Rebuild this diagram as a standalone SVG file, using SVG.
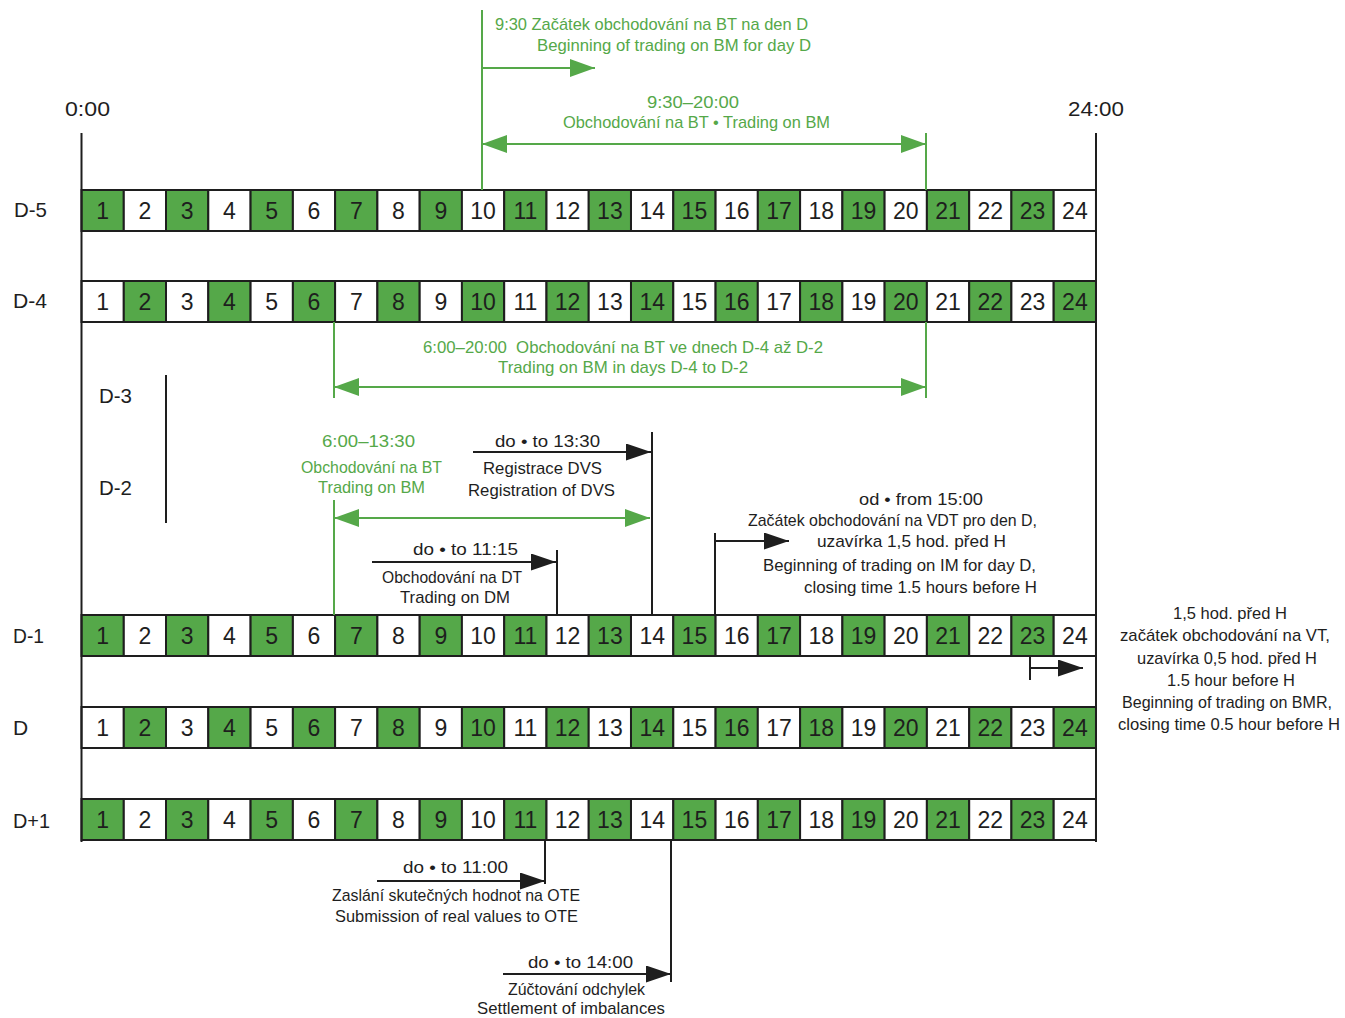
<svg xmlns="http://www.w3.org/2000/svg" width="1345" height="1018" viewBox="0 0 1345 1018">
<style>
.bg{fill:#ffffff}
.c{stroke:#1e1e1e;stroke-width:2}
.g{fill:#55a849}
.w{fill:#ffffff}
.n{font-family:"Liberation Sans",Arial,sans-serif;font-size:23px;fill:#1e1e1e;text-anchor:middle}
.lab{font-family:"Liberation Sans",Arial,sans-serif;font-size:21px;fill:#1e1e1e}
.t{font-family:"Liberation Sans",Arial,sans-serif;font-size:17px;fill:#1e1e1e}
.tg{font-family:"Liberation Sans",Arial,sans-serif;font-size:17px;fill:#55a849}
.lg{stroke:#55a849;stroke-width:2;fill:none}
.lb{stroke:#1e1e1e;stroke-width:2;fill:none}
</style>
<defs>
<marker id="ag" markerUnits="userSpaceOnUse" markerWidth="26" markerHeight="18" refX="25" refY="9" orient="auto-start-reverse" viewBox="0 0 26 18"><path d="M0,0 L25,9 L0,18 z" fill="#55a849"/></marker>
<marker id="ab" markerUnits="userSpaceOnUse" markerWidth="26" markerHeight="18" refX="25" refY="8.5" orient="auto-start-reverse" viewBox="0 0 26 18"><path d="M0,0 L25,8.5 L0,17 z" fill="#1e1e1e"/></marker>
</defs>
<rect class="bg" x="0" y="0" width="1345" height="1018"/>

<g id="axis">
<text class="lab" x="65" y="116" textLength="45" lengthAdjust="spacingAndGlyphs">0:00</text>
<text class="lab" x="1068" y="116" textLength="56" lengthAdjust="spacingAndGlyphs">24:00</text>
</g>

<g id="labels">
<text class="lab" x="14" y="217" textLength="33" lengthAdjust="spacingAndGlyphs">D-5</text>
<text class="lab" x="13" y="308" textLength="34" lengthAdjust="spacingAndGlyphs">D-4</text>
<text class="lab" x="99" y="403" textLength="33" lengthAdjust="spacingAndGlyphs">D-3</text>
<text class="lab" x="99" y="495" textLength="33" lengthAdjust="spacingAndGlyphs">D-2</text>
<text class="lab" x="13" y="643" textLength="31" lengthAdjust="spacingAndGlyphs">D-1</text>
<text class="lab" x="13" y="735">D</text>
<text class="lab" x="13" y="828" textLength="37" lengthAdjust="spacingAndGlyphs">D+1</text>
</g>

<g id="row-d-5" transform="translate(0,190)">
<rect class="c g" x="81.5" y="0" width="42.27" height="41"/><rect class="c w" x="123.8" y="0" width="42.27" height="41"/><rect class="c g" x="166.0" y="0" width="42.27" height="41"/><rect class="c w" x="208.3" y="0" width="42.27" height="41"/><rect class="c g" x="250.6" y="0" width="42.27" height="41"/><rect class="c w" x="292.9" y="0" width="42.27" height="41"/><rect class="c g" x="335.1" y="0" width="42.27" height="41"/><rect class="c w" x="377.4" y="0" width="42.27" height="41"/><rect class="c g" x="419.7" y="0" width="42.27" height="41"/><rect class="c w" x="461.9" y="0" width="42.27" height="41"/><rect class="c g" x="504.2" y="0" width="42.27" height="41"/><rect class="c w" x="546.5" y="0" width="42.27" height="41"/><rect class="c g" x="588.7" y="0" width="42.27" height="41"/><rect class="c w" x="631.0" y="0" width="42.27" height="41"/><rect class="c g" x="673.3" y="0" width="42.27" height="41"/><rect class="c w" x="715.6" y="0" width="42.27" height="41"/><rect class="c g" x="757.8" y="0" width="42.27" height="41"/><rect class="c w" x="800.1" y="0" width="42.27" height="41"/><rect class="c g" x="842.4" y="0" width="42.27" height="41"/><rect class="c w" x="884.6" y="0" width="42.27" height="41"/><rect class="c g" x="926.9" y="0" width="42.27" height="41"/><rect class="c w" x="969.2" y="0" width="42.27" height="41"/><rect class="c g" x="1011.4" y="0" width="42.27" height="41"/><rect class="c w" x="1053.7" y="0" width="42.27" height="41"/>
<text class="n" x="102.6" y="29">1</text><text class="n" x="144.9" y="29">2</text><text class="n" x="187.2" y="29">3</text><text class="n" x="229.5" y="29">4</text><text class="n" x="271.7" y="29">5</text><text class="n" x="314.0" y="29">6</text><text class="n" x="356.3" y="29">7</text><text class="n" x="398.5" y="29">8</text><text class="n" x="440.8" y="29">9</text><text class="n" x="483.1" y="29">10</text><text class="n" x="525.4" y="29">11</text><text class="n" x="567.6" y="29">12</text><text class="n" x="609.9" y="29">13</text><text class="n" x="652.2" y="29">14</text><text class="n" x="694.4" y="29">15</text><text class="n" x="736.7" y="29">16</text><text class="n" x="779.0" y="29">17</text><text class="n" x="821.2" y="29">18</text><text class="n" x="863.5" y="29">19</text><text class="n" x="905.8" y="29">20</text><text class="n" x="948.0" y="29">21</text><text class="n" x="990.3" y="29">22</text><text class="n" x="1032.6" y="29">23</text><text class="n" x="1074.9" y="29">24</text>
</g>

<g id="row-d-4" transform="translate(0,281)">
<rect class="c w" x="81.5" y="0" width="42.27" height="41"/><rect class="c g" x="123.8" y="0" width="42.27" height="41"/><rect class="c w" x="166.0" y="0" width="42.27" height="41"/><rect class="c g" x="208.3" y="0" width="42.27" height="41"/><rect class="c w" x="250.6" y="0" width="42.27" height="41"/><rect class="c g" x="292.9" y="0" width="42.27" height="41"/><rect class="c w" x="335.1" y="0" width="42.27" height="41"/><rect class="c g" x="377.4" y="0" width="42.27" height="41"/><rect class="c w" x="419.7" y="0" width="42.27" height="41"/><rect class="c g" x="461.9" y="0" width="42.27" height="41"/><rect class="c w" x="504.2" y="0" width="42.27" height="41"/><rect class="c g" x="546.5" y="0" width="42.27" height="41"/><rect class="c w" x="588.7" y="0" width="42.27" height="41"/><rect class="c g" x="631.0" y="0" width="42.27" height="41"/><rect class="c w" x="673.3" y="0" width="42.27" height="41"/><rect class="c g" x="715.6" y="0" width="42.27" height="41"/><rect class="c w" x="757.8" y="0" width="42.27" height="41"/><rect class="c g" x="800.1" y="0" width="42.27" height="41"/><rect class="c w" x="842.4" y="0" width="42.27" height="41"/><rect class="c g" x="884.6" y="0" width="42.27" height="41"/><rect class="c w" x="926.9" y="0" width="42.27" height="41"/><rect class="c g" x="969.2" y="0" width="42.27" height="41"/><rect class="c w" x="1011.4" y="0" width="42.27" height="41"/><rect class="c g" x="1053.7" y="0" width="42.27" height="41"/>
<text class="n" x="102.6" y="29">1</text><text class="n" x="144.9" y="29">2</text><text class="n" x="187.2" y="29">3</text><text class="n" x="229.5" y="29">4</text><text class="n" x="271.7" y="29">5</text><text class="n" x="314.0" y="29">6</text><text class="n" x="356.3" y="29">7</text><text class="n" x="398.5" y="29">8</text><text class="n" x="440.8" y="29">9</text><text class="n" x="483.1" y="29">10</text><text class="n" x="525.4" y="29">11</text><text class="n" x="567.6" y="29">12</text><text class="n" x="609.9" y="29">13</text><text class="n" x="652.2" y="29">14</text><text class="n" x="694.4" y="29">15</text><text class="n" x="736.7" y="29">16</text><text class="n" x="779.0" y="29">17</text><text class="n" x="821.2" y="29">18</text><text class="n" x="863.5" y="29">19</text><text class="n" x="905.8" y="29">20</text><text class="n" x="948.0" y="29">21</text><text class="n" x="990.3" y="29">22</text><text class="n" x="1032.6" y="29">23</text><text class="n" x="1074.9" y="29">24</text>
</g>

<g id="row-d-1" transform="translate(0,615)">
<rect class="c g" x="81.5" y="0" width="42.27" height="41"/><rect class="c w" x="123.8" y="0" width="42.27" height="41"/><rect class="c g" x="166.0" y="0" width="42.27" height="41"/><rect class="c w" x="208.3" y="0" width="42.27" height="41"/><rect class="c g" x="250.6" y="0" width="42.27" height="41"/><rect class="c w" x="292.9" y="0" width="42.27" height="41"/><rect class="c g" x="335.1" y="0" width="42.27" height="41"/><rect class="c w" x="377.4" y="0" width="42.27" height="41"/><rect class="c g" x="419.7" y="0" width="42.27" height="41"/><rect class="c w" x="461.9" y="0" width="42.27" height="41"/><rect class="c g" x="504.2" y="0" width="42.27" height="41"/><rect class="c w" x="546.5" y="0" width="42.27" height="41"/><rect class="c g" x="588.7" y="0" width="42.27" height="41"/><rect class="c w" x="631.0" y="0" width="42.27" height="41"/><rect class="c g" x="673.3" y="0" width="42.27" height="41"/><rect class="c w" x="715.6" y="0" width="42.27" height="41"/><rect class="c g" x="757.8" y="0" width="42.27" height="41"/><rect class="c w" x="800.1" y="0" width="42.27" height="41"/><rect class="c g" x="842.4" y="0" width="42.27" height="41"/><rect class="c w" x="884.6" y="0" width="42.27" height="41"/><rect class="c g" x="926.9" y="0" width="42.27" height="41"/><rect class="c w" x="969.2" y="0" width="42.27" height="41"/><rect class="c g" x="1011.4" y="0" width="42.27" height="41"/><rect class="c w" x="1053.7" y="0" width="42.27" height="41"/>
<text class="n" x="102.6" y="29">1</text><text class="n" x="144.9" y="29">2</text><text class="n" x="187.2" y="29">3</text><text class="n" x="229.5" y="29">4</text><text class="n" x="271.7" y="29">5</text><text class="n" x="314.0" y="29">6</text><text class="n" x="356.3" y="29">7</text><text class="n" x="398.5" y="29">8</text><text class="n" x="440.8" y="29">9</text><text class="n" x="483.1" y="29">10</text><text class="n" x="525.4" y="29">11</text><text class="n" x="567.6" y="29">12</text><text class="n" x="609.9" y="29">13</text><text class="n" x="652.2" y="29">14</text><text class="n" x="694.4" y="29">15</text><text class="n" x="736.7" y="29">16</text><text class="n" x="779.0" y="29">17</text><text class="n" x="821.2" y="29">18</text><text class="n" x="863.5" y="29">19</text><text class="n" x="905.8" y="29">20</text><text class="n" x="948.0" y="29">21</text><text class="n" x="990.3" y="29">22</text><text class="n" x="1032.6" y="29">23</text><text class="n" x="1074.9" y="29">24</text>
</g>

<g id="row-d" transform="translate(0,707)">
<rect class="c w" x="81.5" y="0" width="42.27" height="41"/><rect class="c g" x="123.8" y="0" width="42.27" height="41"/><rect class="c w" x="166.0" y="0" width="42.27" height="41"/><rect class="c g" x="208.3" y="0" width="42.27" height="41"/><rect class="c w" x="250.6" y="0" width="42.27" height="41"/><rect class="c g" x="292.9" y="0" width="42.27" height="41"/><rect class="c w" x="335.1" y="0" width="42.27" height="41"/><rect class="c g" x="377.4" y="0" width="42.27" height="41"/><rect class="c w" x="419.7" y="0" width="42.27" height="41"/><rect class="c g" x="461.9" y="0" width="42.27" height="41"/><rect class="c w" x="504.2" y="0" width="42.27" height="41"/><rect class="c g" x="546.5" y="0" width="42.27" height="41"/><rect class="c w" x="588.7" y="0" width="42.27" height="41"/><rect class="c g" x="631.0" y="0" width="42.27" height="41"/><rect class="c w" x="673.3" y="0" width="42.27" height="41"/><rect class="c g" x="715.6" y="0" width="42.27" height="41"/><rect class="c w" x="757.8" y="0" width="42.27" height="41"/><rect class="c g" x="800.1" y="0" width="42.27" height="41"/><rect class="c w" x="842.4" y="0" width="42.27" height="41"/><rect class="c g" x="884.6" y="0" width="42.27" height="41"/><rect class="c w" x="926.9" y="0" width="42.27" height="41"/><rect class="c g" x="969.2" y="0" width="42.27" height="41"/><rect class="c w" x="1011.4" y="0" width="42.27" height="41"/><rect class="c g" x="1053.7" y="0" width="42.27" height="41"/>
<text class="n" x="102.6" y="29">1</text><text class="n" x="144.9" y="29">2</text><text class="n" x="187.2" y="29">3</text><text class="n" x="229.5" y="29">4</text><text class="n" x="271.7" y="29">5</text><text class="n" x="314.0" y="29">6</text><text class="n" x="356.3" y="29">7</text><text class="n" x="398.5" y="29">8</text><text class="n" x="440.8" y="29">9</text><text class="n" x="483.1" y="29">10</text><text class="n" x="525.4" y="29">11</text><text class="n" x="567.6" y="29">12</text><text class="n" x="609.9" y="29">13</text><text class="n" x="652.2" y="29">14</text><text class="n" x="694.4" y="29">15</text><text class="n" x="736.7" y="29">16</text><text class="n" x="779.0" y="29">17</text><text class="n" x="821.2" y="29">18</text><text class="n" x="863.5" y="29">19</text><text class="n" x="905.8" y="29">20</text><text class="n" x="948.0" y="29">21</text><text class="n" x="990.3" y="29">22</text><text class="n" x="1032.6" y="29">23</text><text class="n" x="1074.9" y="29">24</text>
</g>

<g id="row-d+1" transform="translate(0,799)">
<rect class="c g" x="81.5" y="0" width="42.27" height="41"/><rect class="c w" x="123.8" y="0" width="42.27" height="41"/><rect class="c g" x="166.0" y="0" width="42.27" height="41"/><rect class="c w" x="208.3" y="0" width="42.27" height="41"/><rect class="c g" x="250.6" y="0" width="42.27" height="41"/><rect class="c w" x="292.9" y="0" width="42.27" height="41"/><rect class="c g" x="335.1" y="0" width="42.27" height="41"/><rect class="c w" x="377.4" y="0" width="42.27" height="41"/><rect class="c g" x="419.7" y="0" width="42.27" height="41"/><rect class="c w" x="461.9" y="0" width="42.27" height="41"/><rect class="c g" x="504.2" y="0" width="42.27" height="41"/><rect class="c w" x="546.5" y="0" width="42.27" height="41"/><rect class="c g" x="588.7" y="0" width="42.27" height="41"/><rect class="c w" x="631.0" y="0" width="42.27" height="41"/><rect class="c g" x="673.3" y="0" width="42.27" height="41"/><rect class="c w" x="715.6" y="0" width="42.27" height="41"/><rect class="c g" x="757.8" y="0" width="42.27" height="41"/><rect class="c w" x="800.1" y="0" width="42.27" height="41"/><rect class="c g" x="842.4" y="0" width="42.27" height="41"/><rect class="c w" x="884.6" y="0" width="42.27" height="41"/><rect class="c g" x="926.9" y="0" width="42.27" height="41"/><rect class="c w" x="969.2" y="0" width="42.27" height="41"/><rect class="c g" x="1011.4" y="0" width="42.27" height="41"/><rect class="c w" x="1053.7" y="0" width="42.27" height="41"/>
<text class="n" x="102.6" y="29">1</text><text class="n" x="144.9" y="29">2</text><text class="n" x="187.2" y="29">3</text><text class="n" x="229.5" y="29">4</text><text class="n" x="271.7" y="29">5</text><text class="n" x="314.0" y="29">6</text><text class="n" x="356.3" y="29">7</text><text class="n" x="398.5" y="29">8</text><text class="n" x="440.8" y="29">9</text><text class="n" x="483.1" y="29">10</text><text class="n" x="525.4" y="29">11</text><text class="n" x="567.6" y="29">12</text><text class="n" x="609.9" y="29">13</text><text class="n" x="652.2" y="29">14</text><text class="n" x="694.4" y="29">15</text><text class="n" x="736.7" y="29">16</text><text class="n" x="779.0" y="29">17</text><text class="n" x="821.2" y="29">18</text><text class="n" x="863.5" y="29">19</text><text class="n" x="905.8" y="29">20</text><text class="n" x="948.0" y="29">21</text><text class="n" x="990.3" y="29">22</text><text class="n" x="1032.6" y="29">23</text><text class="n" x="1074.9" y="29">24</text>
</g>

<g id="connectors">
<line class="lb" x1="81.5" y1="133" x2="81.5" y2="842"/>
<line class="lb" x1="1096" y1="133" x2="1096" y2="842"/>
<line class="lg" x1="482" y1="10" x2="482" y2="190"/>
<line class="lg" x1="482" y1="68" x2="595" y2="68" marker-end="url(#ag)"/>
<line class="lg" x1="482" y1="144" x2="926" y2="144" marker-start="url(#ag)" marker-end="url(#ag)"/>
<line class="lg" x1="926" y1="133" x2="926" y2="190"/>
<line class="lg" x1="334" y1="322" x2="334" y2="398"/>
<line class="lg" x1="926" y1="322" x2="926" y2="398"/>
<line class="lg" x1="334" y1="387" x2="926" y2="387" marker-start="url(#ag)" marker-end="url(#ag)"/>
<line class="lg" x1="334" y1="500" x2="334" y2="615"/>
<line class="lg" x1="334" y1="518" x2="650" y2="518" marker-start="url(#ag)" marker-end="url(#ag)"/>
<line class="lb" x1="166" y1="375" x2="166" y2="523" stroke-width="1.6"/>
<line class="lb" x1="652" y1="432" x2="652" y2="615"/>
<line class="lb" x1="473" y1="452" x2="651" y2="452" marker-end="url(#ab)"/>
<line class="lb" x1="557" y1="550" x2="557" y2="615"/>
<line class="lb" x1="372" y1="562" x2="556" y2="562" marker-end="url(#ab)"/>
<line class="lb" x1="715" y1="533" x2="715" y2="615"/>
<line class="lb" x1="715" y1="541" x2="789" y2="541" marker-end="url(#ab)"/>
<line class="lb" x1="1030" y1="657" x2="1030" y2="680"/>
<line class="lb" x1="1030" y1="668" x2="1083" y2="668" marker-end="url(#ab)"/>
<line class="lb" x1="545" y1="841" x2="545" y2="884"/>
<line class="lb" x1="377" y1="881" x2="545" y2="881" marker-end="url(#ab)"/>
<line class="lb" x1="671" y1="841" x2="671" y2="982"/>
<line class="lb" x1="503" y1="974" x2="671" y2="974" marker-end="url(#ab)"/>
</g>

<g id="note-bm-start">
<text class="tg" x="495" y="30" textLength="313" lengthAdjust="spacingAndGlyphs">9:30 Začátek obchodování na BT na den D</text>
<text class="tg" x="537" y="51" textLength="274" lengthAdjust="spacingAndGlyphs">Beginning of trading on BM for day D</text>
</g>
<g id="note-bm-d">
<text class="tg" x="647" y="108" textLength="92" lengthAdjust="spacingAndGlyphs">9:30–20:00</text>
<text class="tg" x="563" y="128" textLength="267" lengthAdjust="spacingAndGlyphs">Obchodování na BT • Trading on BM</text>
</g>
<g id="note-bm-d4">
<text class="tg" x="423" y="353" textLength="400" lengthAdjust="spacingAndGlyphs" xml:space="preserve">6:00–20:00  Obchodování na BT ve dnech D-4 až D-2</text>
<text class="tg" x="498" y="373" textLength="250" lengthAdjust="spacingAndGlyphs">Trading on BM in days D-4 to D-2</text>
</g>
<g id="note-bm-d1">
<text class="tg" x="322" y="447" textLength="93" lengthAdjust="spacingAndGlyphs">6:00–13:30</text>
<text class="tg" x="301" y="473" textLength="141" lengthAdjust="spacingAndGlyphs">Obchodování na BT</text>
<text class="tg" x="318" y="493" textLength="107" lengthAdjust="spacingAndGlyphs">Trading on BM</text>
</g>
<g id="note-dvs">
<text class="t" x="495" y="447" textLength="105" lengthAdjust="spacingAndGlyphs">do • to 13:30</text>
<text class="t" x="483" y="474" textLength="119" lengthAdjust="spacingAndGlyphs">Registrace DVS</text>
<text class="t" x="468" y="496" textLength="147" lengthAdjust="spacingAndGlyphs">Registration of DVS</text>
</g>
<g id="note-dm">
<text class="t" x="413" y="555" textLength="105" lengthAdjust="spacingAndGlyphs">do • to 11:15</text>
<text class="t" x="382" y="583" textLength="140" lengthAdjust="spacingAndGlyphs">Obchodování na DT</text>
<text class="t" x="400" y="603" textLength="110" lengthAdjust="spacingAndGlyphs">Trading on DM</text>
</g>
<g id="note-im">
<text class="t" x="859" y="505" textLength="124" lengthAdjust="spacingAndGlyphs">od • from 15:00</text>
<text class="t" x="748" y="526" textLength="289" lengthAdjust="spacingAndGlyphs">Začátek obchodování na VDT pro den D,</text>
<text class="t" x="817" y="547" textLength="189" lengthAdjust="spacingAndGlyphs">uzavírka 1,5 hod. před H</text>
<text class="t" x="763" y="571" textLength="273" lengthAdjust="spacingAndGlyphs">Beginning of trading on IM for day D,</text>
<text class="t" x="804" y="593" textLength="233" lengthAdjust="spacingAndGlyphs">closing time 1.5 hours before H</text>
</g>
<g id="note-bmr">
<text class="t" x="1173" y="619" textLength="114" lengthAdjust="spacingAndGlyphs">1,5 hod. před H</text>
<text class="t" x="1120" y="641" textLength="210" lengthAdjust="spacingAndGlyphs">začátek obchodování na VT,</text>
<text class="t" x="1137" y="664" textLength="180" lengthAdjust="spacingAndGlyphs">uzavírka 0,5 hod. před H</text>
<text class="t" x="1167" y="686" textLength="128" lengthAdjust="spacingAndGlyphs">1.5 hour before H</text>
<text class="t" x="1122" y="708" textLength="210" lengthAdjust="spacingAndGlyphs">Beginning of trading on BMR,</text>
<text class="t" x="1118" y="730" textLength="222" lengthAdjust="spacingAndGlyphs">closing time 0.5 hour before H</text>
</g>
<g id="note-ote">
<text class="t" x="403" y="873" textLength="105" lengthAdjust="spacingAndGlyphs">do • to 11:00</text>
<text class="t" x="332" y="901" textLength="248" lengthAdjust="spacingAndGlyphs">Zaslání skutečných hodnot na OTE</text>
<text class="t" x="335" y="922" textLength="243" lengthAdjust="spacingAndGlyphs">Submission of real values to OTE</text>
</g>
<g id="note-settlement">
<text class="t" x="528" y="968" textLength="105" lengthAdjust="spacingAndGlyphs">do • to 14:00</text>
<text class="t" x="508" y="995" textLength="137" lengthAdjust="spacingAndGlyphs">Zúčtování odchylek</text>
<text class="t" x="477" y="1014" textLength="188" lengthAdjust="spacingAndGlyphs">Settlement of imbalances</text>
</g>
</svg>
